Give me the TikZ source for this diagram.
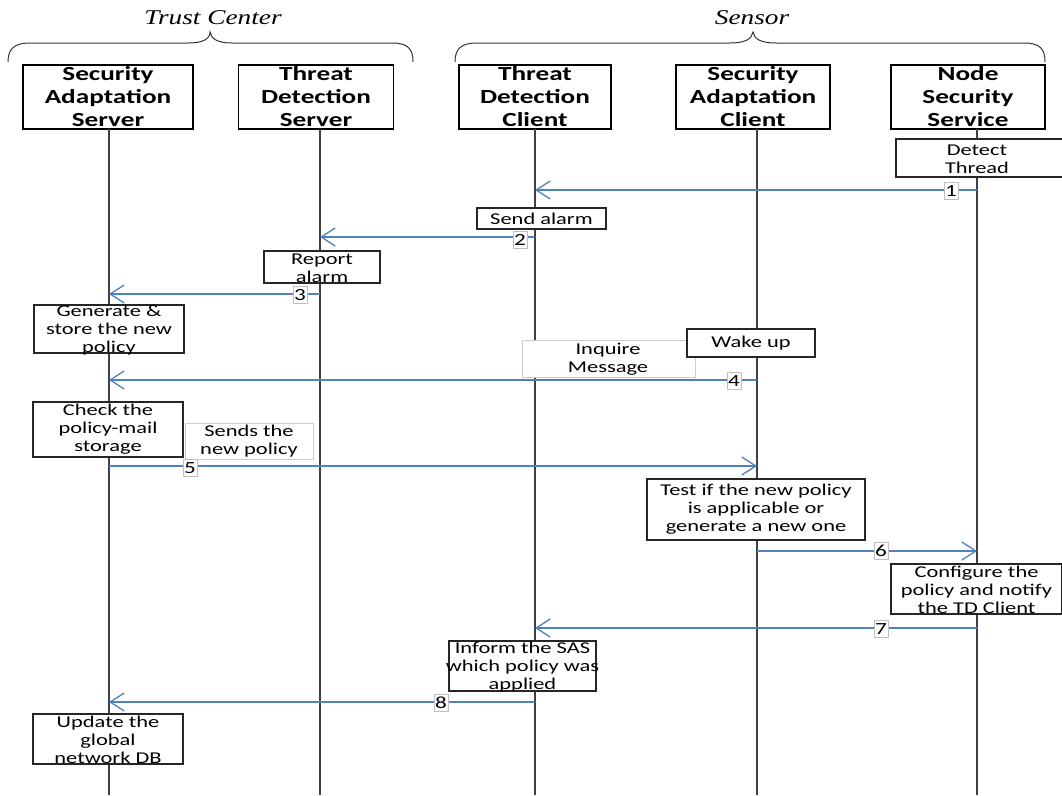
\documentclass[tikz,border=0pt]{standalone}
\usepackage{fontspec}
\setmainfont{Carlito}[FakeStretch=1.36]
\newfontfamily\tnrfont{Liberation Serif}[FakeStretch=1.3]
\usetikzlibrary{arrows.meta}
\begin{document}
\begin{tikzpicture}[x=1pt,y=-1pt,
  hdr/.style={draw=black,line width=1.4pt,fill=white,minimum width=#1,minimum height=64pt,inner sep=0pt,align=center,font=\fontsize{20}{23}\selectfont\bfseries},
  act/.style={draw=black!85,line width=1.2pt,fill=white,inner sep=0pt},
  ghost/.style={draw=black!20,line width=0.8pt,fill=white,inner sep=0pt},
  txt/.style={align=center,font=\fontsize{16.5}{18}\selectfont,inner sep=0pt},
  life/.style={draw=black!75,line width=1.4pt},
  num/.style={draw=black!25,fill=white,line width=0.7pt,inner sep=0.5pt,minimum width=14pt,minimum height=17pt,font=\fontsize{17}{17}\selectfont},
  brc/.style={draw=black!80,line width=1pt}]
\definecolor{msgblue}{RGB}{79,129,189}
\tikzset{msg/.style={draw=msgblue,line width=1.5pt,-{Straight Barb[length=14pt,width=18pt,line width=1.3pt]}}}
\useasboundingbox (0,0) rectangle (1062,795);

% braces
\draw[brc] (8,62) .. controls (8,49) and (14,43) .. (30,43) -- (188,43) .. controls (203,43) and (210,39) .. (210,32) .. controls (211,39) and (218,43) .. (232,43) -- (392,43) .. controls (408,43) and (413,49) .. (413,62);
\draw[brc] (455,62) .. controls (455,49) and (461,43) .. (477,43) -- (730,43) .. controls (745,43) and (752,39) .. (753,32) .. controls (754,39) and (761,43) .. (776,43) -- (1024,43) .. controls (1040,43) and (1045,49) .. (1045,62);
\node[font=\tnrfont\itshape\fontsize{21}{21}\selectfont] (tc) at (213,18) {Trust Center};
\node[font=\tnrfont\itshape\fontsize{21}{21}\selectfont] (sn) at (752,18) {Sensor};

% headers
\node[hdr=170pt] (sas) at (108,97) {Security\\Adaptation\\Server};
\node[hdr=155pt] (tds) at (316,97) {Threat\\Detection\\Server};
\node[hdr=152pt] (tdc) at (535,97) {Threat\\Detection\\Client};
\node[hdr=154pt] (sac) at (753,97) {Security\\Adaptation\\Client};
\node[hdr=154pt] (nss) at (968,97) {Node\\Security\\Service};

% lifelines
\coordinate (sasE) at (109,795);
\coordinate (tdsE) at (320,795);
\coordinate (tdcE) at (535,795);
\coordinate (sacE) at (757,795);
\coordinate (nssE) at (977,795);
\draw[life] (109,129) -- (sasE);
\draw[life] (320,129) -- (tdsE);
\draw[life] (535,129) -- (tdcE);
\draw[life] (757,129) -- (sacE);
\draw[life] (977,129) -- (nssE);

% activity boxes
\node[act,minimum width=167pt,minimum height=38pt] (b1) at (979.5,158) {};
\node[txt] (t1) at (977,159) {Detect\\Thread};
\node[act,minimum width=129pt,minimum height=21pt] (b2) at (541.5,218.5) {};
\node[txt] (t2) at (b2.center) {Send alarm};
\node[act,minimum width=116pt,minimum height=32pt] (b3) at (322,267) {};
\node[txt] (t3) at (322,268) {Report\\alarm};
\node[act,minimum width=150pt,minimum height=48pt] (b4) at (109,329) {};
\node[txt] (t4) at (109,330) {Generate \&\\store the new\\policy};
\node[ghost,minimum width=173pt,minimum height=37pt] (b5) at (608.5,358.5) {};
\node[txt] (t5) at (608,359) {Inquire\\Message};
\node[act,minimum width=128pt,minimum height=28pt] (b6) at (751,343) {};
\node[txt] (t6) at (b6.center) {Wake up};
\node[act,minimum width=150pt,minimum height=55pt] (b7) at (108,429.5) {};
\node[txt] (t7) at (b7.center) {Check the\\policy-mail\\storage};
\node[ghost,minimum width=128pt,minimum height=36pt] (b8) at (249,441) {};
\node[txt] (t8) at (b8.center) {Sends the\\new policy};
\node[act,minimum width=218pt,minimum height=61pt] (b9) at (756,509.5) {};
\node[txt] (t9) at (b9.center) {Test if the new policy\\is applicable or\\generate a new one};
\node[act,minimum width=171pt,minimum height=50pt] (b10) at (976.5,589) {};
\node[txt] (t10) at (976.5,590) {Configure the\\policy and notify\\the TD Client};
\node[act,minimum width=147pt,minimum height=50pt] (b11) at (522.5,666) {};
\node[txt] (t11) at (522.5,667) {Inform the SAS\\which policy was\\applied};
\node[act,minimum width=150pt,minimum height=50pt] (b12) at (108,739) {};
\node[txt] (t12) at (108,740) {Update the\\global\\network DB};

% message points
\coordinate (m1s) at (977,190); \coordinate (m1e) at (535,190);
\coordinate (m2s) at (535,237); \coordinate (m2e) at (320,237);
\coordinate (m3s) at (320,294); \coordinate (m3e) at (109,294);
\coordinate (m4s) at (757,380); \coordinate (m4e) at (109,380);
\coordinate (m5s) at (109,466); \coordinate (m5e) at (757,466);
\coordinate (m6s) at (757,551); \coordinate (m6e) at (977,551);
\coordinate (m7s) at (977,628); \coordinate (m7e) at (535,628);
\coordinate (m8s) at (535,702); \coordinate (m8e) at (109,702);

\draw[msg] (m1s) -- (m1e);
\draw[msg] (m2s) -- (m2e);
\draw[msg] (m3s) -- (m3e);
\draw[msg] (m4s) -- (m4e);
\draw[msg] (m5s) -- (m5e);
\draw[msg] (m6s) -- (m6e);
\draw[msg] (m7s) -- (m7e);
\draw[msg] (m8s) -- (m8e);

% numbers
\node[num] (n1) at (951,191) {1};
\node[num] (n2) at (520,240) {2};
\node[num] (n3) at (300,295) {3};
\node[num] (n4) at (734,381) {4};
\node[num] (n5) at (190,468) {5};
\node[num] (n6) at (881,551) {6};
\node[num] (n7) at (881,629) {7};
\node[num] (n8) at (441,703) {8};
\end{tikzpicture}
\end{document}
